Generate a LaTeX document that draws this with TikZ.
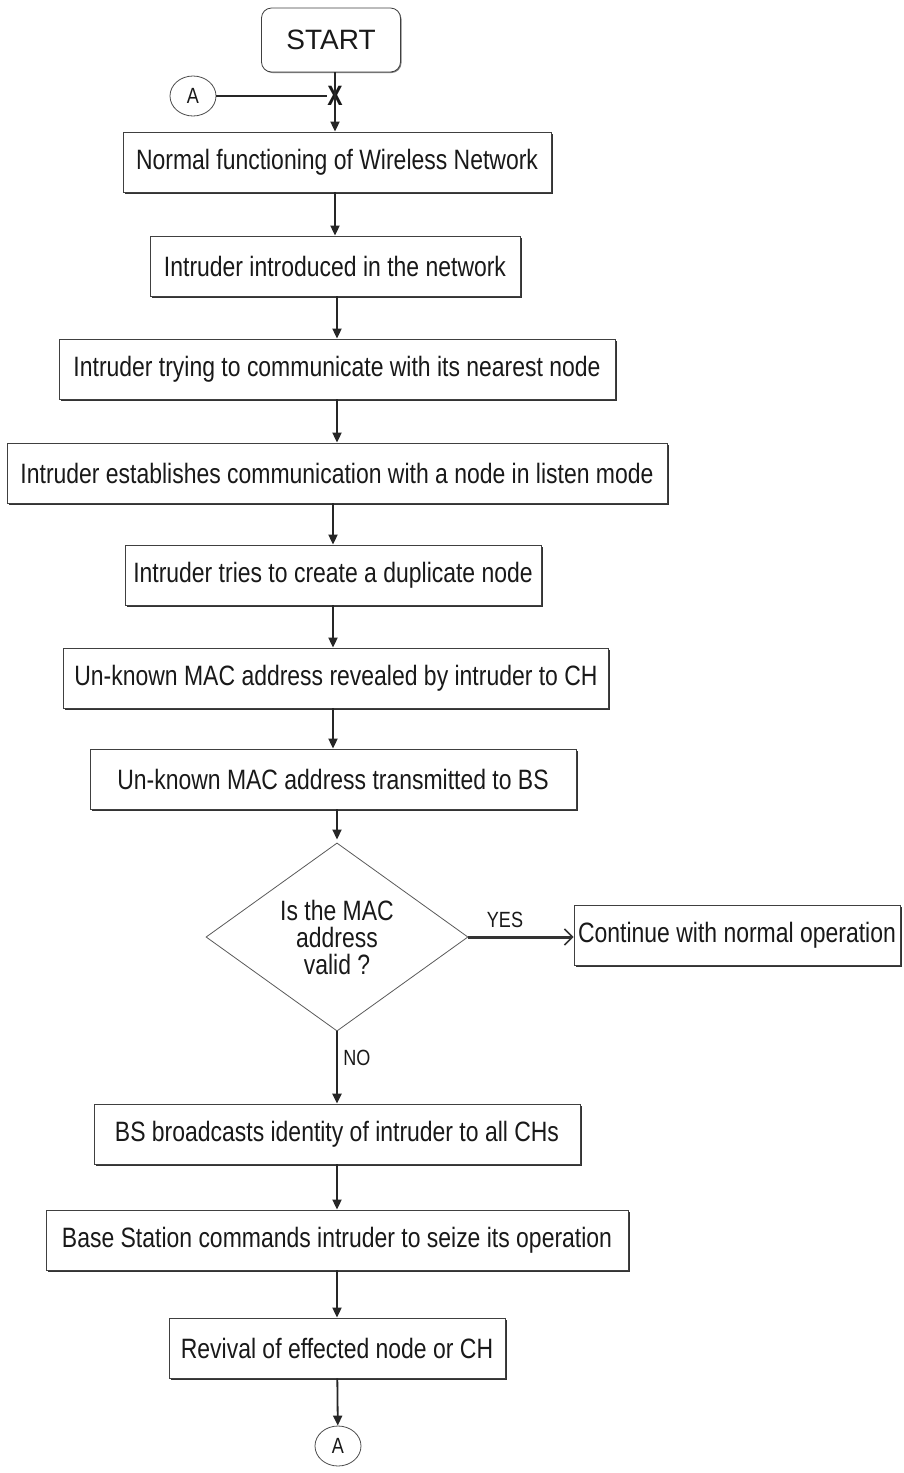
\documentclass[tikz,border=0pt]{standalone}
\usepackage{fontspec}
\setmainfont{Liberation Sans}
\newfontfamily\narrowfont{Liberation Sans}[FakeStretch=0.82]
\usetikzlibrary{arrows.meta,shapes.geometric,shadows}

\tikzset{
  stepbox/.style={draw=black!75, line width=0.4pt, fill=white, minimum height=30pt, inner sep=2pt,
    font=\narrowfont\fontsize{14}{14}\selectfont, text=black!90,
    general shadow={shadow xshift=0.8pt, shadow yshift=-0.8pt, fill=black!80}},
  startbox/.style={draw=black!75, line width=0.4pt, fill=white, rounded corners=5pt,
    minimum width=69.5pt, minimum height=32pt, font=\fontsize{14}{14}\selectfont, text=black!90,
    general shadow={shadow xshift=0.5pt, shadow yshift=-0.5pt, fill=black!50}},
  decisionbox/.style={diamond, draw=black!65, line width=0.4pt, inner sep=0pt, align=center,
    minimum width=131pt, minimum height=89.5pt,
    font=\narrowfont\fontsize{14}{13.5}\selectfont, text=black!90},
  connector/.style={ellipse, draw=black!70, line width=0.4pt, minimum width=23pt,
    minimum height=20pt, inner sep=0pt, font=\narrowfont\fontsize{11}{11}\selectfont, text=black!90},
  flowarrow/.style={draw=black!85, line width=0.9pt, -{Triangle[length=5pt,width=4.5pt]}},
  yesarrow/.style={draw=black!80, line width=1.5pt, -{Straight Barb[length=4pt,width=8pt,line width=0.8pt]}},
  branchlabel/.style={font=\narrowfont\fontsize{11}{11}\selectfont, text=black!90, inner sep=0pt}
}

\begin{document}
\begin{tikzpicture}[x=0.5pt, y=-0.5pt]
  %%%%% START %%%%%
  \useasboundingbox (0,0) rectangle (904,1473);

  \node[startbox] (start) at (331,40) {START};
  \node[connector] (atop) at (193,96) {A};
  \node[font=\narrowfont\bfseries\fontsize{14}{14}\selectfont, inner sep=0pt, text=black!90] (cross) at (335,96) {X};

  \node[stepbox, minimum width=214pt] (normal) at (337,162) {Normal functioning of Wireless Network};
  \node[stepbox, minimum width=185pt] (intro) at (335,266) {Intruder introduced in the network};
  \node[stepbox, minimum width=278pt] (trying) at (337,369) {Intruder trying to communicate with its nearest node};
  \node[stepbox, minimum width=330pt] (listen) at (337,473) {Intruder establishes communication with a node in listen mode};
  \node[stepbox, minimum width=208pt] (duplicate) at (333,575) {Intruder tries to create a duplicate node};
  \node[stepbox, minimum width=272.5pt] (revealed) at (336,678) {Un-known MAC address revealed by intruder to CH};
  \node[stepbox, minimum width=243pt] (transmit) at (333,779) {Un-known MAC address transmitted to BS};

  \node[decisionbox] (valid) at (337,937) {Is the MAC\\address\\valid ?};
  \node[stepbox, minimum width=163pt] (continue) at (737,935) {Continue with normal operation};

  \node[stepbox, minimum width=243pt] (broadcast) at (337,1134) {BS broadcasts identity of intruder to all CHs};
  \node[stepbox, minimum width=291pt] (seize) at (337,1240) {Base Station commands intruder to seize its operation};
  \node[stepbox, minimum width=168pt] (revive) at (337,1348) {Revival of effected node or CH};
  \node[connector] (abottom) at (338,1446) {A};

  % flow
  \draw[draw=black!85, line width=0.8pt] (atop) -- (cross);
  \draw[flowarrow] (start.south -| cross.center) -- (cross.center |- normal.north);
  \draw[flowarrow] (normal.south -| intro.north) -- (intro.north);
  \draw[flowarrow] (intro.south -| trying.north) -- (trying.north);
  \draw[flowarrow] (trying) -- (listen);
  \draw[flowarrow] (listen.south -| duplicate.north) -- (duplicate.north);
  \draw[flowarrow] (duplicate) -- (revealed.north -| duplicate.north);
  \draw[flowarrow] (revealed.south -| transmit.north) -- (transmit.north);
  \draw[flowarrow, shorten >=1.5pt] (transmit.south -| valid.north) -- (valid.north);

  \draw[yesarrow] (valid.east) -- (valid.east -| continue.west);
  \node[branchlabel] (yes) at (505,920) {YES};

  \draw[flowarrow, line width=1.1pt] (valid.south) -- (broadcast.north);
  \node[branchlabel] (no) at (357,1058) {NO};

  \draw[flowarrow] (broadcast) -- (seize);
  \draw[flowarrow] (seize) -- (revive);
  \draw[flowarrow] (revive) -- (abottom);
  %%%%% END %%%%%
\end{tikzpicture}
\end{document}
